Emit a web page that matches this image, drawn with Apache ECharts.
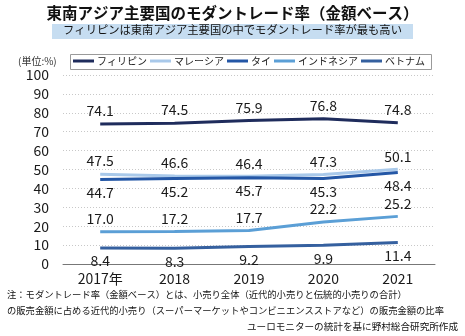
<!DOCTYPE html>
<html>
<head>
<meta charset="utf-8">
<script src="https://cdn.jsdelivr.net/npm/echarts@6/dist/echarts.min.js"></script>
<style>
html,body{margin:0;padding:0;background:#fff;}
#chart{width:465px;height:336px;}
</style>
</head>
<body>
<div id="chart"></div>
<script>
// Years on the x axis
const years = ['2017年', '2018', '2019', '2020', '2021'];
// Modern trade share by value (%)
const philippines = [74.1, 74.5, 75.9, 76.8, 74.8];
const malaysia = [47.5, 46.6, 46.4, 47.3, 50.1];
const thailand = [44.7, 45.2, 45.7, 45.3, 48.4];
const indonesia = [17.0, 17.2, 17.7, 22.2, 25.2];
const vietnam = [8.4, 8.3, 9.2, 9.9, 11.4];
const yTicks = [0, 10, 20, 30, 40, 50, 60, 70, 80, 90, 100];

const numFont = '"Liberation Sans Narrow", "Noto Sans CJK JP", sans-serif';
const jpFont = '"Noto Sans CJK JP", sans-serif';

function line(name, data, color, labelPos, z) {
  return {
    name: name,
    type: 'line',
    data: data,
    symbol: 'circle',
    showSymbol: true,
    symbolSize: 0.1,
    z: z,
    lineStyle: { color: color, width: 3 },
    itemStyle: { color: color },
    label: {
      show: true,
      position: labelPos,
      distance: 6,
      formatter: p => Number(p.value).toFixed(1),
      color: '#1a1a1a',
      fontSize: 14,
      fontFamily: numFont
    }
  };
}

const chart = echarts.init(document.getElementById('chart'));
chart.setOption({
  animation: false,
  backgroundColor: '#fff',
  grid: { left: 63, right: 30, top: 75, bottom: 72 },
  legend: {
    left: 73, top: 56, width: 420,
    padding: 0,
    itemGap: 3,
    itemWidth: 21, itemHeight: 3,
    icon: 'rect',
    textStyle: { fontFamily: jpFont, fontSize: 10, color: '#222', padding: [0, 0, 0, -2] },
    data: ['フィリピン', 'マレーシア', 'タイ', 'インドネシア', 'ベトナム']
  },
  xAxis: {
    type: 'category',
    data: years,
    boundaryGap: true,
    axisLine: { lineStyle: { color: '#777', width: 1 } },
    axisTick: { show: false },
    axisLabel: { color: '#1a1a1a', fontSize: 14, fontFamily: numFont, margin: 8 }
  },
  yAxis: {
    type: 'value',
    min: yTicks[0], max: yTicks[yTicks.length - 1], interval: 10,
    axisLine: { show: false },
    axisTick: { show: false },
    splitLine: { lineStyle: { color: '#c8c8c8', type: [1, 2], width: 1 } },
    axisLabel: { color: '#1a1a1a', fontSize: 14, fontFamily: numFont, margin: 14 }
  },
  series: [
    line('フィリピン', philippines, '#1f2c5c', 'top', 5),
    line('マレーシア', malaysia, '#a9c9ea', 'top', 3),
    line('タイ', thailand, '#2457a6', 'bottom', 4),
    line('インドネシア', indonesia, '#5b9fd6', 'top', 3),
    line('ベトナム', vietnam, '#35609f', 'bottom', 3)
  ],
  graphic: [
    { type: 'text', left: 'center', top: 5,
      style: { text: '東南アジア主要国のモダントレード率（金額ベース）', font: 'bold 15.5px ' + jpFont, fill: '#111' } },
    { type: 'rect', shape: { x: 52, y: 24, width: 361, height: 15 },
      style: { fill: '#c6ddf1' } },
    { type: 'text', left: 'center', top: 24.5,
      style: { text: 'フィリピンは東南アジア主要国の中でモダントレード率が最も高い', font: '11.3px ' + jpFont, fill: '#111' } },
    // frame around the legend
    { type: 'rect', z: 0, shape: { x: 70.5, y: 54.5, width: 361, height: 15 },
      style: { fill: 'none', stroke: '#9a9a9a', lineWidth: 1 } },
    { type: 'text', left: 18, top: 56,
      style: { text: '(単位:%)', font: '10px ' + jpFont, fill: '#333' } },
    { type: 'text', left: 7, top: 290,
      style: { text: '注：モダントレード率（金額ベース）とは、小売り全体（近代的小売りと伝統的小売りの合計）', font: '9.3px ' + jpFont, fill: '#111' } },
    { type: 'text', left: 7, top: 306,
      style: { text: 'の販売金額に占める近代的小売り（スーパーマーケットやコンビニエンスストアなど）の販売金額の比率', font: '9.3px ' + jpFont, fill: '#111' } },
    { type: 'text', right: 7, top: 322,
      style: { text: 'ユーロモニターの統計を基に野村総合研究所作成', font: '9.6px ' + jpFont, fill: '#111' } }
  ]
});
</script>
</body>
</html>
